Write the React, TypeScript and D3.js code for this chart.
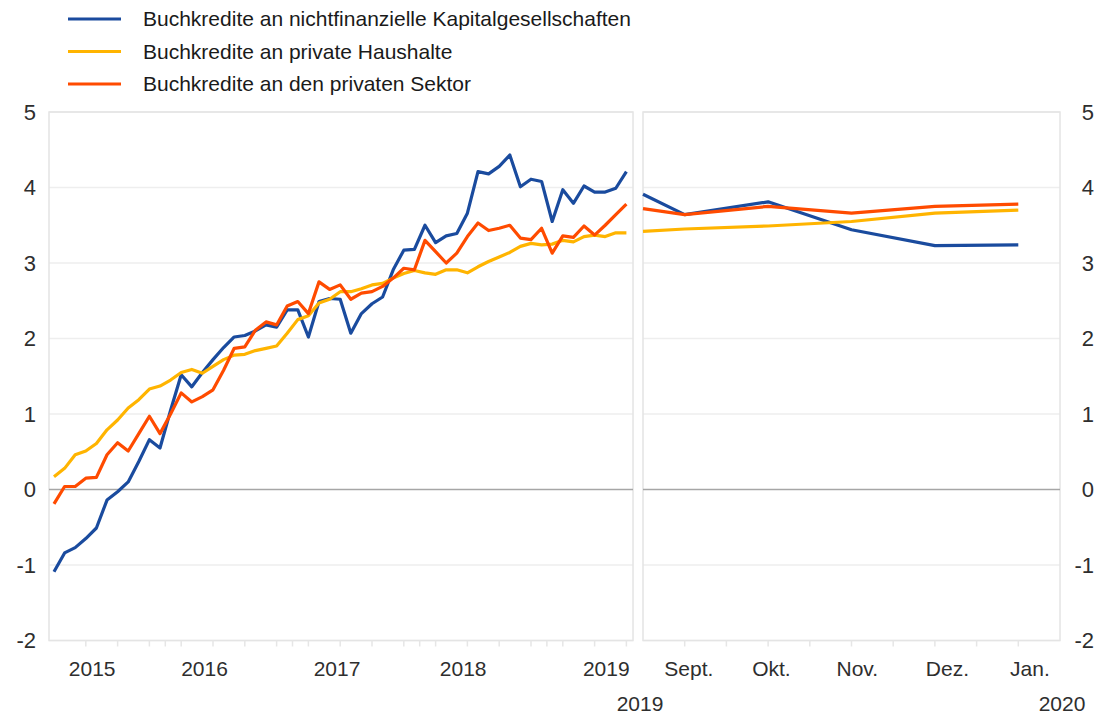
import React from "react";
import * as d3 from "d3";

// ---- Data ----
const seriesNames = [
  "Buchkredite an nichtfinanzielle Kapitalgesellschaften",
  "Buchkredite an private Haushalte",
  "Buchkredite an den privaten Sektor",
];
const seriesColors = ["#1a4b9e", "#ffb400", "#ff4b00"];

// Left panel: monthly values, Jan 2015 .. Jul 2019 (55 months)
const nfcLeft = [-1.09,-0.84,-0.77,-0.65,-0.51,-0.14,-0.03,0.10,0.37,0.66,0.55,1.05,1.52,1.36,1.55,1.72,1.88,2.02,2.04,2.10,2.18,2.15,2.38,2.38,2.02,2.49,2.53,2.52,2.07,2.33,2.46,2.55,2.91,3.17,3.18,3.50,3.27,3.36,3.39,3.66,4.21,4.18,4.28,4.43,4.01,4.11,4.08,3.55,3.97,3.79,4.02,3.94,3.94,3.99,4.21];
const hhLeft = [0.17,0.28,0.46,0.51,0.61,0.79,0.92,1.08,1.19,1.33,1.37,1.45,1.55,1.59,1.54,1.63,1.72,1.78,1.79,1.84,1.87,1.90,2.07,2.25,2.30,2.47,2.52,2.62,2.62,2.66,2.71,2.73,2.80,2.86,2.90,2.87,2.85,2.91,2.91,2.87,2.95,3.02,3.08,3.14,3.22,3.26,3.24,3.25,3.30,3.28,3.35,3.37,3.35,3.40,3.40];
const pspLeft = [-0.19,0.04,0.04,0.15,0.16,0.46,0.62,0.51,0.74,0.97,0.74,1.00,1.28,1.16,1.23,1.32,1.58,1.87,1.89,2.11,2.22,2.18,2.43,2.49,2.33,2.75,2.65,2.71,2.52,2.60,2.62,2.69,2.80,2.93,2.91,3.30,3.15,3.00,3.13,3.35,3.53,3.43,3.46,3.50,3.33,3.31,3.46,3.13,3.36,3.34,3.49,3.37,3.50,3.64,3.78];

const yearLabels = ["2015", "2016", "2017", "2018", "2019"];
const yearLabelPos = [3.6, 14.2, 26.7, 38.6, 52.1];
const leftTickPos = [3, 6, 9, 10.5, 12, 15, 18, 21, 22.5, 24, 27, 30, 33, 34.5, 36, 39, 42, 45, 46.5, 48, 51, 54];

// Right panel: start point (-0.5) then Sept 2019 .. Jan 2020
const rightPos = [-0.5, 0, 1, 2, 3, 4];
const nfcRight = [3.91, 3.64, 3.81, 3.44, 3.23, 3.24];
const hhRight = [3.42, 3.45, 3.49, 3.55, 3.66, 3.70];
const pspRight = [3.72, 3.64, 3.75, 3.66, 3.75, 3.78];
const monthLabels = ["Sept.", "Okt.", "Nov.", "Dez.", "Jan."];
const monthLabelPos = [0.05, 1.04, 2.07, 3.15, 4.14];
const rightTickPos = [0, 0.5, 1, 1.5, 2, 2.5, 3, 3.5, 4];
const yearLabelsRight = ["2019", "2020"];

const yTicks = [-2, -1, 0, 1, 2, 3, 4, 5];

const FONT = "'Liberation Sans', Arial, Helvetica, sans-serif";

export default function App() {
  const W = 1102, H = 718;
  const y = d3.scaleLinear().domain([-2, 5]).range([640.5, 112]);
  const leftPanel = { x0: 49, x1: 633 };
  const rightPanel = { x0: 643, x1: 1060 };
  const xL = d3.scaleLinear().domain([0, 54]).range([54, 626.4]);
  const xR = d3.scaleLinear().domain([-0.5, 4.5]).range([rightPanel.x0, rightPanel.x1]);

  const lineL = d3.line<number>().x((_, i) => xL(i)).y((d) => y(d));
  const lineR = d3.line<number>().x((_, i) => xR(rightPos[i])).y((d) => y(d));

  const leftSeries = [nfcLeft, hhLeft, pspLeft];
  const rightSeries = [nfcRight, hhRight, pspRight];

  const gridColor = "#eeeeee";
  const borderColor = "#e4e4e4";
  const textColor = "#2e2e2e";

  const panels = [leftPanel, rightPanel];

  return (
    <svg width={W} height={H} style={{ position: "absolute", left: 0, top: 0, background: "#fff" }} fontFamily={FONT}>
      {/* Legend */}
      {seriesNames.map((name, i) => (
        <g key={name}>
          <line x1={68} x2={121} y1={19 + i * 32.5} y2={19 + i * 32.5} stroke={seriesColors[i]} strokeWidth={3} />
          <text x={143} y={19 + i * 32.5} dy="0.35em" fontSize={21} fill="#1a1a1a">{name}</text>
        </g>
      ))}

      {/* Panels: grid + borders */}
      {panels.map((p, pi) => (
        <g key={pi}>
          {yTicks.filter((t) => t !== 0).map((t) => (
            <line key={t} x1={p.x0} x2={p.x1} y1={y(t)} y2={y(t)} stroke={gridColor} strokeWidth={1.5} />
          ))}
          <rect x={p.x0} y={y(5)} width={p.x1 - p.x0} height={y(-2) - y(5)} fill="none" stroke={borderColor} strokeWidth={1.5} />
          <line x1={p.x0} x2={p.x1} y1={y(0)} y2={y(0)} stroke="#a6a6a6" strokeWidth={1.5} />
        </g>
      ))}

      {/* Bottom ticks */}
      {leftTickPos.map((t) => (
        <line key={"lt" + t} x1={xL(t)} x2={xL(t)} y1={y(-2)} y2={y(-2) + 6} stroke="#e6e6e6" strokeWidth={1.5} />
      ))}
      {rightTickPos.map((t) => (
        <line key={"rt" + t} x1={xR(t)} x2={xR(t)} y1={y(-2)} y2={y(-2) + 6} stroke="#e6e6e6" strokeWidth={1.5} />
      ))}

      {/* Lines */}
      {leftSeries.map((s, i) => (
        <path key={"l" + i} d={lineL(s) || ""} fill="none" stroke={seriesColors[i]} strokeWidth={3.2} strokeLinejoin="round" />
      ))}
      {rightSeries.map((s, i) => (
        <path key={"r" + i} d={lineR(s) || ""} fill="none" stroke={seriesColors[i]} strokeWidth={3.2} strokeLinejoin="round" />
      ))}

      {/* Y axis labels */}
      {yTicks.map((t) => (
        <g key={"y" + t}>
          <text x={36} y={y(t)} dy="0.36em" textAnchor="end" fontSize={22} fill={textColor}>{t}</text>
          <text x={1094} y={y(t)} dy="0.36em" textAnchor="end" fontSize={22} fill={textColor}>{t}</text>
        </g>
      ))}

      {/* X axis labels */}
      {yearLabels.map((l, i) => (
        <text key={l} x={xL(yearLabelPos[i])} y={668} dy="0.36em" textAnchor="middle" fontSize={21} fill={textColor}>{l}</text>
      ))}
      {monthLabels.map((l, i) => (
        <text key={l} x={xR(monthLabelPos[i])} y={668} dy="0.36em" textAnchor="middle" fontSize={21} fill={textColor}>{l}</text>
      ))}
      <text x={640} y={703} dy="0.36em" textAnchor="middle" fontSize={21} fill={textColor}>{yearLabelsRight[0]}</text>
      <text x={1062} y={703} dy="0.36em" textAnchor="middle" fontSize={21} fill={textColor}>{yearLabelsRight[1]}</text>
    </svg>
  );
}
